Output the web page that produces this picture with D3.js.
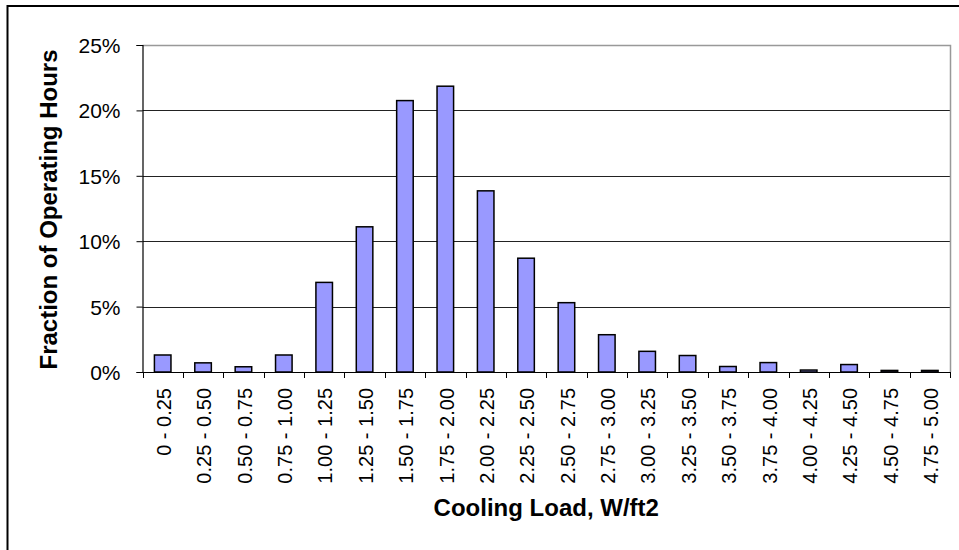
<!DOCTYPE html>
<html>
<head>
<meta charset="utf-8">
<script src="https://cdn.jsdelivr.net/npm/d3@7"></script>
<style>
  html, body { margin: 0; padding: 0; background: #fff; }
  svg { display: block; }
  text { font-family: Arial, "Liberation Sans", sans-serif; fill: #000; }
</style>
</head>
<body>
<svg id="chart" width="959" height="550"></svg>
<script>
const categories = ["0 - 0.25", "0.25 - 0.50", "0.50 - 0.75", "0.75 - 1.00", "1.00 - 1.25",
  "1.25 - 1.50", "1.50 - 1.75", "1.75 - 2.00", "2.00 - 2.25", "2.25 - 2.50",
  "2.50 - 2.75", "2.75 - 3.00", "3.00 - 3.25", "3.25 - 3.50", "3.50 - 3.75",
  "3.75 - 4.00", "4.00 - 4.25", "4.25 - 4.50", "4.50 - 4.75", "4.75 - 5.00"];
const values = [1.3, 0.7, 0.4, 1.3, 6.85, 11.1, 20.75, 21.85, 13.85, 8.7,
  5.3, 2.85, 1.58, 1.26, 0.42, 0.72, 0.15, 0.57, 0.12, 0.12];
const yTicks = [0, 5, 10, 15, 20, 25];
const yTitle = "Fraction of Operating Hours";
const xTitle = "Cooling Load, W/ft2";

const svg = d3.select("#chart");
const L = 142.5, R = 950, T = 45, B = 372;

// outer chart border
svg.append("rect").attr("x", 7.5).attr("y", 6).attr("width", 1000).attr("height", 600)
  .attr("fill", "none").attr("stroke", "#000").attr("stroke-width", 2);

const x = d3.scaleBand().domain(categories).range([L, R]).padding(0);
const y = d3.scaleLinear().domain([0, 25]).range([B, T]);

// gridlines
svg.append("g").selectAll("line").data(yTicks.filter(d => d > 0 && d < 25)).join("line")
  .attr("x1", L).attr("x2", R)
  .attr("y1", d => Math.round(y(d)) + 0.5).attr("y2", d => Math.round(y(d)) + 0.5)
  .attr("stroke", "#222").attr("stroke-width", 1);

// plot area border top/right (gray)
svg.append("path")
  .attr("d", `M${L},${T + 0.5}H${R + 0.5}V${B}`)
  .attr("fill", "none").attr("stroke", "#999").attr("stroke-width", 1.5);

// bars
const barW = x.bandwidth() * 0.41;
svg.append("g").selectAll("rect").data(values).join("rect")
  .attr("x", (d, i) => x(categories[i]) + (x.bandwidth() - barW) / 2)
  .attr("y", d => y(d))
  .attr("width", barW)
  .attr("height", d => B - y(d))
  .attr("fill", "#9999FF").attr("stroke", "#000").attr("stroke-width", 1.5);

// y axis
const yAxis = svg.append("g").attr("transform", `translate(${L},0)`)
  .call(d3.axisLeft(y).tickValues(yTicks).tickFormat(d => d + "%").tickSize(6).tickPadding(16));
yAxis.select(".domain").attr("stroke", "#000").attr("stroke-width", 1.2);
yAxis.selectAll(".tick line").attr("stroke", "#000");
yAxis.selectAll(".tick text").attr("font-size", 21).attr("font-family", "Arial, 'Liberation Sans', sans-serif").attr("dy", "0.36em");

// x axis
const xg = svg.append("g");
xg.append("line").attr("x1", L).attr("x2", R + 0.5).attr("y1", B + 0.5).attr("y2", B + 0.5)
  .attr("stroke", "#000").attr("stroke-width", 1.2);
const tickPos = categories.map(c => x(c)).concat([R]);
xg.selectAll("line.tk").data(tickPos).join("line").attr("class", "tk")
  .attr("x1", d => Math.round(d) + 0.5).attr("x2", d => Math.round(d) + 0.5)
  .attr("y1", B).attr("y2", B + 6).attr("stroke", "#000");
xg.selectAll("text").data(categories).join("text")
  .attr("transform", d => `translate(${x(d) + x.bandwidth() / 2 + 1},${B + 16}) rotate(-90)`)
  .attr("text-anchor", "end").attr("dy", "0.36em")
  .attr("font-size", 20).text(d => d);

// titles
svg.append("text")
  .attr("transform", `translate(57,${(T + B) / 2 + 1}) rotate(-90)`)
  .attr("text-anchor", "middle").attr("font-size", 24).attr("font-weight", "bold")
  .text(yTitle);
svg.append("text")
  .attr("x", (L + R) / 2).attr("y", 516)
  .attr("text-anchor", "middle").attr("font-size", 24).attr("font-weight", "bold")
  .text(xTitle);
</script>
</body>
</html>
